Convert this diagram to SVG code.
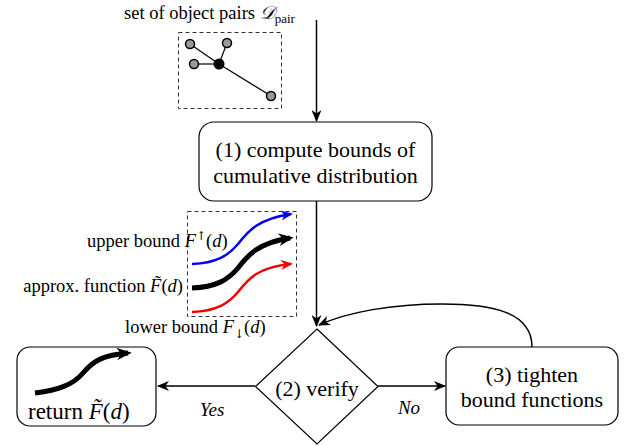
<svg xmlns="http://www.w3.org/2000/svg" width="625" height="446" viewBox="0 0 625 446">
<defs>
<style>
.t{font-family:"Liberation Serif","Times New Roman",serif;fill:#000}
.box{fill:#fff;stroke:#000;stroke-width:1.2}
.dash{fill:none;stroke:#333;stroke-width:1;stroke-dasharray:4,3}
.conn{fill:none;stroke:#000;stroke-width:1.5}
.gn{fill:#999;stroke:#000;stroke-width:1.5}
.e{stroke:#000;stroke-width:1.2}
.arr{font-family:"DejaVu Serif","Liberation Serif",serif;font-style:normal}
</style>
<marker id="ah" viewBox="0 0 12 10" refX="11" refY="5" markerWidth="12" markerHeight="10" markerUnits="userSpaceOnUse" orient="auto">
<path d="M0,0 L12,5 L0,10 L3.5,5 z" fill="#000"/>
</marker>
<marker id="ahb" viewBox="0 0 12 10" refX="10" refY="5" markerWidth="12" markerHeight="10" markerUnits="userSpaceOnUse" orient="auto">
<path d="M0,0 L12,5 L0,10 L3.5,5 z" fill="#0000ee"/>
</marker>
<marker id="ahr" viewBox="0 0 12 10" refX="10" refY="5" markerWidth="12" markerHeight="10" markerUnits="userSpaceOnUse" orient="auto">
<path d="M0,0 L12,5 L0,10 L3.5,5 z" fill="#ee0000"/>
</marker>
<marker id="ahk" viewBox="0 0 12 10" refX="9" refY="5" markerWidth="15" markerHeight="13" markerUnits="userSpaceOnUse" orient="auto">
<path d="M0,0 L12,5 L0,10 L3.5,5 z" fill="#000"/>
</marker>
</defs>
<rect width="625" height="446" fill="#fff"/>

<g id="connectors">
<path class="conn" d="M316.5,20 L316.5,121" marker-end="url(#ah)"/>
<path class="conn" d="M316.5,201 L316.5,326" marker-end="url(#ah)"/>
<path class="conn" d="M532,347 C532,312 492,304 442,304 C392,304 348,312 319,325" marker-end="url(#ah)"/>
<path class="conn" d="M255,386 L158,386" marker-end="url(#ah)"/>
<path class="conn" d="M378,386 L445,386" marker-end="url(#ah)"/>
<text class="t" x="212" y="416" font-size="19" font-style="italic" text-anchor="middle">Yes</text>
<text class="t" x="409" y="414" font-size="19" font-style="italic" text-anchor="middle">No</text>
</g>

<g id="input">
<text class="t" x="124" y="19" font-size="18.5">set of object pairs <tspan font-family="DejaVu Sans, Noto Sans, sans-serif" font-style="italic">𝒟</tspan><tspan font-size="13" dy="4">pair</tspan></text>
<rect class="dash" x="178.5" y="32.5" width="103" height="76"/>
<line class="e" x1="190" y1="44" x2="219" y2="64"/>
<line class="e" x1="227" y1="43" x2="219" y2="64"/>
<line class="e" x1="194" y1="64" x2="219" y2="64"/>
<line class="e" x1="219" y1="64" x2="271" y2="96"/>
<circle class="gn" cx="190" cy="44" r="4.5"/>
<circle class="gn" cx="227" cy="43" r="4.5"/>
<circle class="gn" cx="194" cy="64" r="4.5"/>
<circle class="gn" cx="271" cy="96" r="4.5"/>
<circle cx="219" cy="64" r="5.5" fill="#000"/>
</g>

<g id="node1">
<rect class="box" x="199" y="122" width="233" height="79" rx="15"/>
<text class="t" x="315.5" y="157" font-size="22" text-anchor="middle">(1) compute bounds of</text>
<text class="t" x="315.5" y="183" font-size="22" text-anchor="middle">cumulative distribution</text>
</g>

<g id="bounds">
<rect class="dash" x="187.5" y="211.5" width="109" height="105"/>
<path d="M192,264 C216,263 228,256 238,244 C248,231 258,219 291,214" fill="none" stroke="#0000ee" stroke-width="2.5" marker-end="url(#ahb)"/>
<path d="M192,288 C216,287 228,280 238,268 C248,255 258,243 290,238" fill="none" stroke="#000" stroke-width="5" marker-end="url(#ahk)"/>
<path d="M192,312 C216,311 228,304 238,292 C248,279 258,267 291,264" fill="none" stroke="#ee0000" stroke-width="2.5" marker-end="url(#ahr)"/>
<text class="t" x="87" y="247" font-size="18.5">upper bound <tspan font-style="italic">F</tspan><tspan class="arr" font-size="12" dy="-7">↑</tspan><tspan dy="7">(</tspan><tspan font-style="italic">d</tspan>)</text>
<text class="t" x="183" y="292" font-size="18.5" text-anchor="end">approx. function <tspan font-style="italic">F̃</tspan>(<tspan font-style="italic">d</tspan>)</text>
<text class="t" x="125" y="333" font-size="18.5">lower bound <tspan font-style="italic">F</tspan><tspan class="arr" font-size="12" dy="5">↓</tspan><tspan dy="-5">(</tspan><tspan font-style="italic">d</tspan>)</text>
</g>

<g id="node2">
<path class="box" d="M317,329 L378,386.5 L317,444 L255.5,386.5 z"/>
<text class="t" x="317" y="396" font-size="22" text-anchor="middle">(2) verify</text>
</g>

<g id="node-return">
<rect class="box" x="17" y="347" width="139" height="79" rx="13"/>
<path d="M35,393 C58,390 73,385 83,373 C94,360 104,355 128,353" fill="none" stroke="#000" stroke-width="5" marker-end="url(#ahk)"/>
<text class="t" x="28" y="419" font-size="23">return <tspan font-style="italic">F̃</tspan>(<tspan font-style="italic">d</tspan>)</text>
</g>

<g id="node3">
<rect class="box" x="446" y="347" width="172" height="78" rx="13"/>
<text class="t" x="532" y="382" font-size="22" text-anchor="middle">(3) tighten</text>
<text class="t" x="532" y="407" font-size="22" text-anchor="middle">bound functions</text>
</g>
</svg>
